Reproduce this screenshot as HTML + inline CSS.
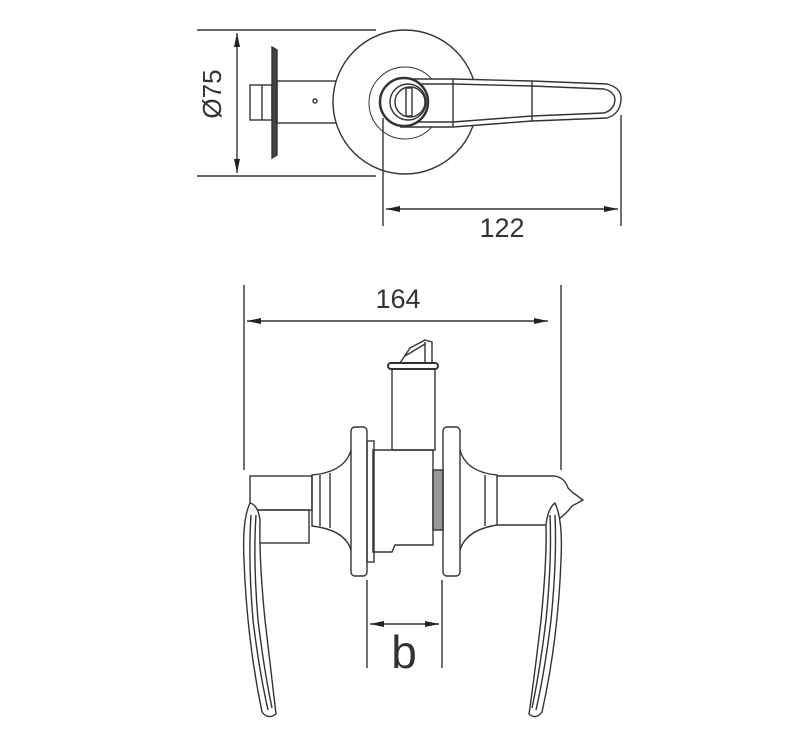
<!DOCTYPE html>
<html><head><style>body{margin:0;background:#fff}svg{display:block}</style></head><body>
<svg width="800" height="734" viewBox="0 0 800 734" xmlns="http://www.w3.org/2000/svg" fill="none" stroke="#333" stroke-width="1.4" font-family="Liberation Sans, sans-serif">
<defs><marker id="a" markerWidth="14" markerHeight="6" refX="14" refY="3" orient="auto-start-reverse" markerUnits="userSpaceOnUse"><path d="M0,0 L14,3 L0,6 z" fill="#222" stroke="none"/></marker></defs>
<!-- TOP VIEW -->
<line x1="197" y1="30" x2="376" y2="30"/><line x1="197" y1="176" x2="376" y2="176"/>
<line x1="237" y1="33" x2="237" y2="173" marker-start="url(#a)" marker-end="url(#a)"/>
<text x="221" y="94" font-size="26" fill="#333" stroke="none" text-anchor="middle" transform="rotate(-90 221 94)">Ø75</text>
<rect x="250" y="85" width="22" height="35"/><line x1="262" y1="85" x2="262" y2="120"/>
<path d="M272,47 L277,50 L277,155 L272,158 Z" fill="#444"/>
<rect x="277" y="81" width="60" height="42"/><circle cx="315" cy="101" r="2"/>
<circle cx="405" cy="102" r="72" fill="#fff"/>
<circle cx="405" cy="103" r="36" stroke-width="1"/>
<path d="M400,79 L453,79 L532,81 L607,84 Q622,88 621,100 Q620,114 607,118 L532,121 L453,127 L400,127" fill="#fff"/>
<path d="M405,84 L453,84 L532,86 L604,89 Q615,92 615,100 Q614,110 604,113 L532,116 L453,122 L405,122"/>
<line x1="453" y1="79" x2="453" y2="127"/><line x1="532" y1="81" x2="532" y2="121"/>
<circle cx="404" cy="102" r="24" fill="#fff" stroke-width="2.5"/>
<circle cx="408" cy="102" r="18"/><circle cx="410" cy="102" r="15"/>
<rect x="406" y="88" width="6" height="28"/>
<line x1="383" y1="118" x2="383" y2="226"/><line x1="621" y1="115" x2="621" y2="226"/>
<line x1="386" y1="209" x2="618" y2="209" marker-start="url(#a)" marker-end="url(#a)"/>
<text x="502" y="237" font-size="27" fill="#333" stroke="none" text-anchor="middle">122</text>
<!-- FRONT VIEW -->
<line x1="244" y1="285" x2="244" y2="470"/><line x1="561" y1="285" x2="561" y2="470"/>
<line x1="247" y1="321" x2="548" y2="321" marker-start="url(#a)" marker-end="url(#a)"/>
<text x="398" y="308" font-size="27" fill="#333" stroke="none" text-anchor="middle">164</text>
<path d="M400,363 L410,348 L425,340 L432,342 L432,363"/><line x1="425" y1="342" x2="425" y2="363"/><line x1="405" y1="356" x2="425" y2="344"/>
<rect x="388" y="363" width="50" height="6" rx="3" stroke-width="2"/>
<rect x="392" y="369" width="43" height="81"/>
<path d="M373,450 L433,450 L433,545 L395,545 L392,552 L373,552 Z"/>
<rect x="367" y="441" width="7" height="121"/>
<rect x="433" y="470" width="10" height="60" fill="#999"/>
<path d="M351,450 Q345,472 312,475 L312,526 Q345,530 351,550"/>
<line x1="320" y1="475" x2="320" y2="526"/><line x1="330" y1="473" x2="330" y2="528"/>
<rect x="351" y="427" width="16" height="149" rx="4"/>
<rect x="443" y="427" width="17" height="149" rx="4"/>
<path d="M460,450 Q466,472 497,475 L497,525 Q466,530 460,550"/>
<line x1="485" y1="475" x2="485" y2="526"/>
<path d="M497,476 L555,476 Q565,478 568,488 L572,492 L583,500 L572,506 Q566,514 560,518 L556,525 L497,525"/>
<rect x="250" y="476" width="62" height="34"/><rect x="257" y="510" width="52" height="33"/>
<path d="M250,503 Q242,520 244,560 Q247,640 262,712 Q268,720 276,714 Q272,680 265,620 Q259,560 260,520 Q258,505 250,503 Z" fill="#fff"/>
<path d="M251,515 Q248,560 253,620 Q259,670 268,710"/><path d="M256,515 Q253,560 258,620 Q264,670 272,708"/>
<path d="M555,503 Q563,520 561,560 Q558,640 542,712 Q536,720 529,714 Q534,680 541,620 Q547,560 546,525 Q548,508 555,503 Z" fill="#fff"/>
<path d="M555,515 Q557,560 551,620 Q545,670 536,710"/><path d="M550,515 Q552,560 546,620 Q540,670 532,708"/>
<line x1="367" y1="580" x2="367" y2="668"/><line x1="442" y1="580" x2="442" y2="668"/>
<line x1="370" y1="624" x2="439" y2="624" marker-start="url(#a)" marker-end="url(#a)"/>
<text x="404" y="668" font-size="46" fill="#333" stroke="none" text-anchor="middle">b</text>
</svg>
</body></html>
